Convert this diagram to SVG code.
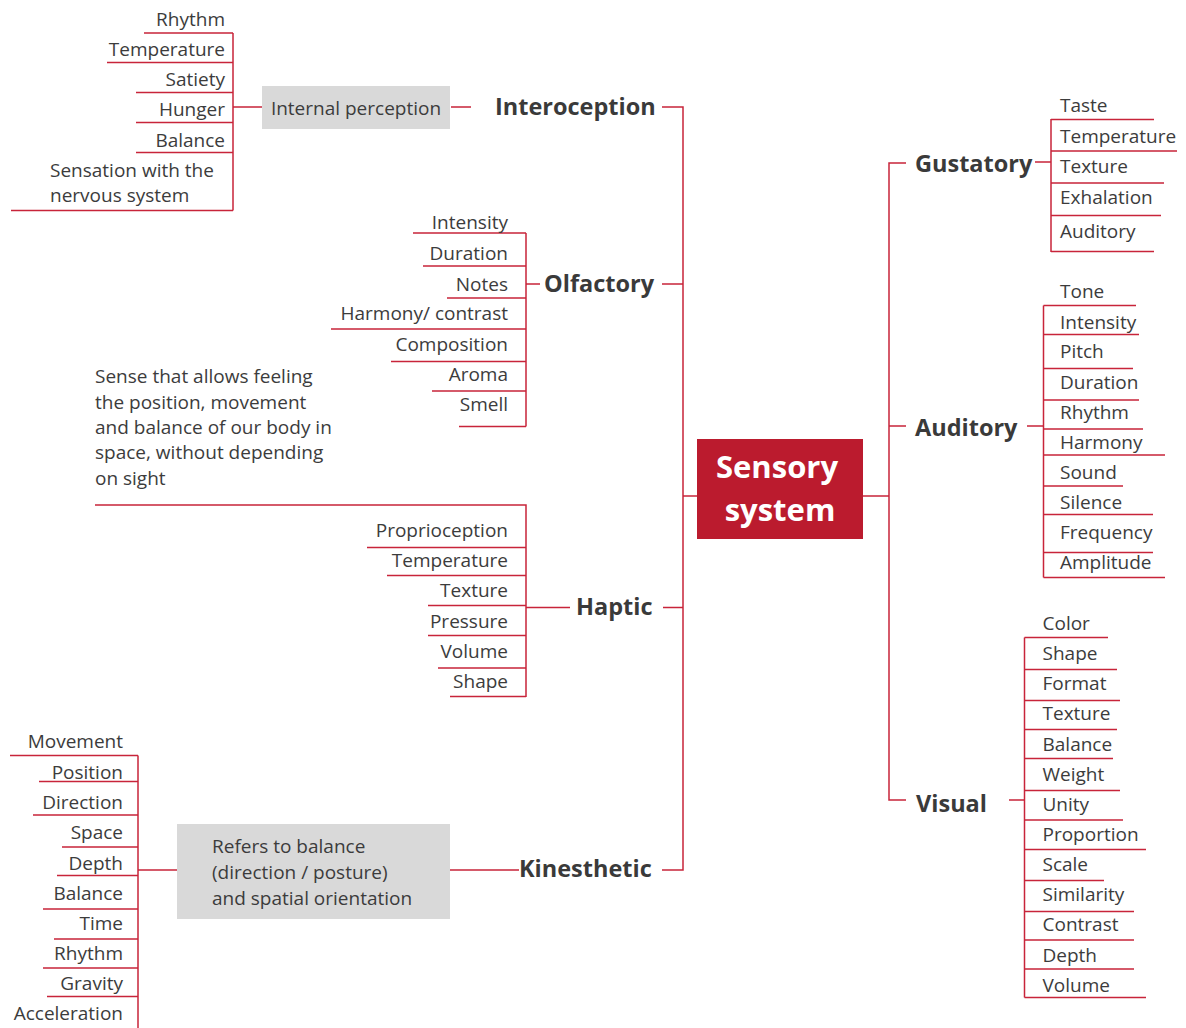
<svg xmlns="http://www.w3.org/2000/svg" width="1186" height="1028" viewBox="0 0 1186 1028">
<style>
.t{font-family:"Open Sans","Noto Sans",sans-serif;font-size:19px;fill:#3c3c3c}
.e{text-anchor:end}
.m{text-anchor:middle}
.h{font-family:"Open Sans","Noto Sans",sans-serif;font-size:23.5px;font-weight:bold;fill:#3a3a3a}
.c{font-family:"Open Sans","Noto Sans",sans-serif;font-size:31px;font-weight:bold;fill:#ffffff;text-anchor:middle}
.ln{stroke:#c8243a;stroke-width:1.5;fill:none}
.box{fill:#d9d9d9}
</style>
<rect width="1186" height="1028" fill="#ffffff"/>
<g id="connectors" class="ln">
<path d="M144,33H233M107,62.5H233M136,92.5H233M136,122.5H233M136,152.5H233M11,210.5H233M233,33V210.5M233,107H262M451,107H471"/>
<path d="M413,233H526M423,266H526M447,298H526M331,329H526M391,361.5H526M432,391H526M459,426.5H526M526,233V426.5M526,284H540"/>
<path d="M95,505H526V697M367,547.5H526M387,575.5H526M428,605.5H526M428,635.5H526M438,668H526M450,696.5H526M526,607.5H570"/>
<path d="M10,755.5H138M39,781.5H138M33,815H138M62,847H138M57,875.5H138M43,909H138M54,939H138M43,968H138M47,996.5H138M138,755.5V1028M138,870H177M450,870H519"/>
<path d="M662,107H683V870H662M662,284H683M663,607.5H683M683,496H697"/>
<path d="M863,496H889M906,163H889V800H906M889,426H906"/>
<path d="M1035,162H1051M1051,119V252M1051,119.5H1154M1051,151H1177M1051,183H1164M1051,215.5H1161M1051,251.5H1154"/>
<path d="M1027,426H1043.5M1043.5,305.5V577.5M1043.5,305.5H1136M1043.5,334.5H1139M1043.5,368.5H1133M1043.5,400H1139M1043.5,429H1143M1043.5,455H1165M1043.5,486H1123M1043.5,514.5H1153M1043.5,552.5H1153M1043.5,577.5H1165"/>
<path d="M1009,800H1024.5M1024.5,637.5V997.5M1024.5,637.5H1108M1024.5,669.5H1117M1024.5,700.5H1120M1024.5,729.5H1117M1024.5,758.5H1113M1024.5,790.5H1120M1024.5,820H1123M1024.5,849.5H1146M1024.5,880.5H1104M1024.5,911.5H1134M1024.5,940H1134M1024.5,969H1134M1024.5,997.5H1146"/>
</g>
<g id="center">
<rect x="697" y="439" width="166" height="100" fill="#bb1b2e"/>
<text class="c" x="777" y="478">Sensory</text>
<text class="c" x="780" y="521">system</text>
</g>
<g id="interoception">
<text class="h" x="495" y="115">Interoception</text>
</g>
<g id="internal-perception">
<rect class="box" x="262" y="86" width="188" height="43"/>
<text class="t m" x="356" y="115">Internal perception</text>
</g>
<g id="interoception-items">
<text class="t e" x="225" y="26">Rhythm</text>
<text class="t e" x="225" y="56">Temperature</text>
<text class="t e" x="225" y="86">Satiety</text>
<text class="t e" x="225" y="116">Hunger</text>
<text class="t e" x="225" y="146.5">Balance</text>
<text class="t" x="50" y="177">Sensation with the</text>
<text class="t" x="50" y="202">nervous system</text>
</g>
<g id="olfactory">
<text class="h" x="544" y="292">Olfactory</text>
<text class="t e" x="508" y="229">Intensity</text>
<text class="t e" x="508" y="260">Duration</text>
<text class="t e" x="508" y="290.5">Notes</text>
<text class="t e" x="508" y="320">Harmony/ contrast</text>
<text class="t e" x="508" y="350.5">Composition</text>
<text class="t e" x="508" y="380.5">Aroma</text>
<text class="t e" x="508" y="410.5">Smell</text>
</g>
<g id="haptic">
<text class="h" x="576" y="615">Haptic</text>
<text class="t" x="95" y="383">Sense that allows feeling</text>
<text class="t" x="95" y="409">the position, movement</text>
<text class="t" x="95" y="434">and balance of our body in</text>
<text class="t" x="95" y="459">space, without depending</text>
<text class="t" x="95" y="485">on sight</text>
<text class="t e" x="508" y="537">Proprioception</text>
<text class="t e" x="508" y="567">Temperature</text>
<text class="t e" x="508" y="597">Texture</text>
<text class="t e" x="508" y="628">Pressure</text>
<text class="t e" x="508" y="658">Volume</text>
<text class="t e" x="508" y="688">Shape</text>
</g>
<g id="kinesthetic">
<text class="h" x="519" y="877">Kinesthetic</text>
<rect class="box" x="177" y="824" width="273" height="95"/>
<text class="t" x="212" y="852.5">Refers to balance</text>
<text class="t" x="212" y="878.5">(direction / posture)</text>
<text class="t" x="212" y="904.5">and spatial orientation</text>
<text class="t e" x="123" y="748">Movement</text>
<text class="t e" x="123" y="779">Position</text>
<text class="t e" x="123" y="809">Direction</text>
<text class="t e" x="123" y="839">Space</text>
<text class="t e" x="123" y="870">Depth</text>
<text class="t e" x="123" y="900">Balance</text>
<text class="t e" x="123" y="930">Time</text>
<text class="t e" x="123" y="960">Rhythm</text>
<text class="t e" x="123" y="990">Gravity</text>
<text class="t e" x="123" y="1020">Acceleration</text>
</g>
<g id="gustatory">
<text class="h" x="915" y="172">Gustatory</text>
<text class="t" x="1060" y="112">Taste</text>
<text class="t" x="1060" y="143">Temperature</text>
<text class="t" x="1060" y="173">Texture</text>
<text class="t" x="1060" y="204">Exhalation</text>
<text class="t" x="1060" y="238">Auditory</text>
</g>
<g id="auditory">
<text class="h" x="915" y="435.5">Auditory</text>
<text class="t" x="1060" y="297.5">Tone</text>
<text class="t" x="1060" y="329">Intensity</text>
<text class="t" x="1060" y="358">Pitch</text>
<text class="t" x="1060" y="389">Duration</text>
<text class="t" x="1060" y="419">Rhythm</text>
<text class="t" x="1060" y="449">Harmony</text>
<text class="t" x="1060" y="479">Sound</text>
<text class="t" x="1060" y="509">Silence</text>
<text class="t" x="1060" y="539">Frequency</text>
<text class="t" x="1060" y="569">Amplitude</text>
</g>
<g id="visual">
<text class="h" x="916" y="812">Visual</text>
<text class="t" x="1042.5" y="630">Color</text>
<text class="t" x="1042.5" y="660">Shape</text>
<text class="t" x="1042.5" y="690">Format</text>
<text class="t" x="1042.5" y="720">Texture</text>
<text class="t" x="1042.5" y="750.5">Balance</text>
<text class="t" x="1042.5" y="780.5">Weight</text>
<text class="t" x="1042.5" y="810.5">Unity</text>
<text class="t" x="1042.5" y="840.5">Proportion</text>
<text class="t" x="1042.5" y="870.5">Scale</text>
<text class="t" x="1042.5" y="900.5">Similarity</text>
<text class="t" x="1042.5" y="931">Contrast</text>
<text class="t" x="1042.5" y="961.5">Depth</text>
<text class="t" x="1042.5" y="991.5">Volume</text>
</g>
</svg>
